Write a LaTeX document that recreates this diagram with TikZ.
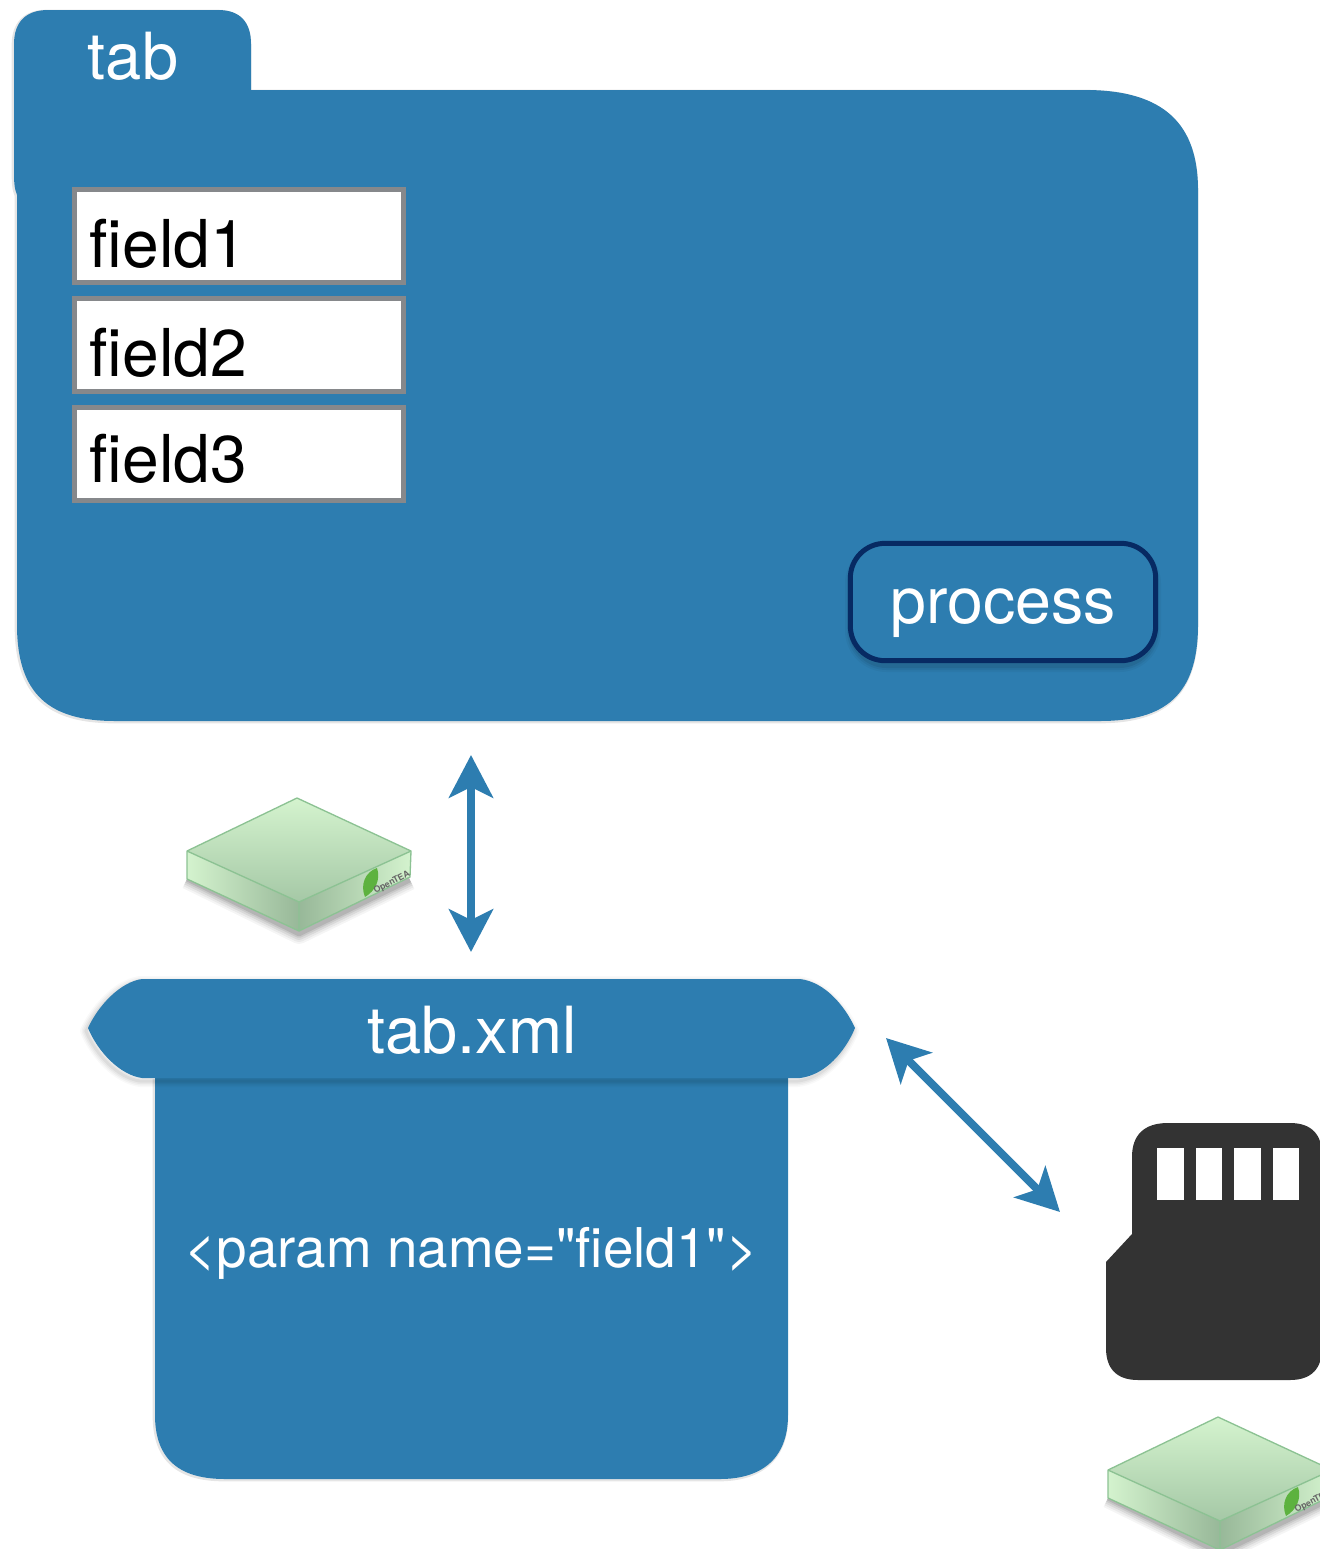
\documentclass[tikz,border=0pt]{standalone}
\usepackage{fontspec}
\newfontfamily\plainface[Ligatures=NoCommon]{TeX Gyre Heros}
\usetikzlibrary{arrows.meta}
\definecolor{paperblue}{HTML}{2D7DB0}
\definecolor{fieldgray}{HTML}{86888B}
\definecolor{navyline}{HTML}{072A63}
\definecolor{carddark}{HTML}{333333}
\definecolor{blockline}{HTML}{8CC293}
\definecolor{blocklight}{HTML}{D4F3CE}
\definecolor{blockdark}{HTML}{A5C8A6}
\definecolor{leafgreen}{HTML}{5DB23F}
\newcommand\pxfont[1]{\plainface\fontsize{\dimexpr#1pt*3/4\relax}{\dimexpr#1pt*9/10\relax}\selectfont}
\newcommand\folderpath{(48,10) -- (218,10) .. controls (240,10) and (251,22) .. (251,44) -- (251,90) -- (1085,90)
  .. controls (1165,90) and (1198,125) .. (1198,190) -- (1198,625) .. controls (1198,695) and (1165,721) .. (1100,721)
  -- (115,721) .. controls (50,721) and (17,695) .. (17,625) -- (17,195)
  .. controls (14,188) and (14,180) .. (14,170) -- (14,44) .. controls (14,22) and (26,10) .. (48,10) -- cycle}
\newcommand\bannerpath{(142,979) -- (800,979) .. controls (825,982) and (845,1006) .. (855,1028)
  .. controls (845,1052) and (825,1075) .. (800,1078) -- (142,1078) .. controls (120,1075) and (98,1052) .. (88,1028)
  .. controls (98,1006) and (120,982) .. (142,979) -- cycle}
\tikzset{
  x=0.75pt,y=-0.75pt,
  paper/.style={fill=paperblue,draw=none},
  fieldbox/.style={draw=fieldgray,fill=white,line width=3.75pt,anchor=north west,
    minimum width=247pt,minimum height=69.5pt,inner sep=0pt,text width=224.5pt,align=left,
    text height=47.5pt,text depth=0pt,font=\pxfont{66},text=black},
  whitelabel/.style={text=white,inner sep=0pt,anchor=base},
  twoway/.style={paperblue,line width=6pt,{Stealth[length=32pt,width=33pt,inset=8pt]}-{Stealth[length=32pt,width=33pt,inset=8pt]},shorten >=0pt,shorten <=0pt},
  datablock/.pic={
    \foreach \w/\o in {30/.04,24/.05,18/.07,12/.08,7/.10}
      \draw[black,opacity=\o,line width=\w*0.5pt,line join=round] (0,81)--(112,136)--(223,82);
    \shade[top color=blocklight,bottom color=blockdark] (0,53)--(110,0)--(224,53)--(112,104)--cycle;
    \shade[left color=blocklight,right color=blockdark!92!black] (0,53)--(112,104)--(112,133)--(0,81)--cycle;
    \shade[left color=blockdark!92!black,right color=blocklight] (112,104)--(224,53)--(223,79)--(112,133)--cycle;
    \draw[blockline,line width=1pt,line join=round] (0,53)--(110,0)--(224,53)--(112,104)--cycle
      (0,53)--(0,81)--(112,133)--(223,79)--(224,53) (112,104)--(112,133);
    \fill[leafgreen] (190,70) .. controls (178,74) and (173,87) .. (178,99) .. controls (188,93) and (194,82) .. (190,70) -- cycle;
    \node[rotate=28,inner sep=0pt,text=black!60,font=\bfseries\pxfont{8.8}] (-logo) at (205,84.5) {OpenTEA};
  }
}
\begin{document}
\begin{tikzpicture}
\useasboundingbox (0,0) rectangle (1320,1549);
\clip (0,0) rectangle (1320,1549);
% folder
\path[draw=black,opacity=.10,line width=2pt,shift={(-1,1)}] \folderpath;
\path[paper] \folderpath;
\node[whitelabel,font=\pxfont{65}] (tabtitle) at (133,79) {tab};
% fields
\node[fieldbox] (field1) at (72,187) {field1};
\node[fieldbox] (field2) at (72,296) {field2};
\node[fieldbox,text height=43pt] (field3) at (72,405) {field3};
% process button
\foreach \w/\o in {14/.04,10/.05,6/.07}
  \draw[black,opacity=\o,line width=\w*0.75pt,rounded corners=26pt] (852,549) rectangle (1154,665);
\node[draw=navyline,fill=paperblue,line width=3.75pt,rounded corners=26pt,minimum width=229pt,minimum height=88pt,
  inner sep=0pt,text=white,text height=32pt,text depth=0pt,font=\pxfont{64.5}] (process) at (1003,602) {process};
% blocks
\pic (blockA) at (187,798) {datablock};
\pic (blockB) at (1108,1417) {datablock};
% arrow 1
\coordinate (upTop) at (471,755);
\coordinate (upBottom) at (471,952);
\draw[twoway] (upTop) -- (upBottom);
% xml document
\path[draw=black,opacity=.10,line width=2pt,shift={(-1,1)}] (155,1078) -- (155,1415) .. controls (155,1460) and (180,1479) .. (225,1479) -- (720,1479) .. controls (760,1479) and (788,1460) .. (788,1415);
\path[paper] (155,1060) -- (788,1060) -- (788,1415) .. controls (788,1460) and (760,1479) .. (720,1479)
  -- (225,1479) .. controls (180,1479) and (155,1460) .. (155,1415) -- cycle;
\foreach \w/\o in {12/.025,9/.03,6/.04,3/.05}
  \path[draw=black,opacity=\o,line width=\w*0.75pt,line join=round,shift={(-2,3)}] \bannerpath;
\path[paper] \bannerpath;
\node[whitelabel,font=\pxfont{65}] (xmltitle) at (472,1053) {tab.xml};
\node[whitelabel,font=\pxfont{54.8}] (xmlparam) at (471.5,1267) {<param name=\char34 field1\char34>};
% arrow 2
\coordinate (diagTop) at (886,1038);
\coordinate (diagBottom) at (1060,1212);
\draw[twoway] (diagTop) -- (diagBottom);
% memory card
\path[fill=carddark] (1168,1123) -- (1290,1123) .. controls (1312,1123) and (1322,1135) .. (1322,1155) -- (1322,1348)
  .. controls (1322,1368) and (1312,1380) .. (1290,1380) -- (1138,1380) .. controls (1116,1380) and (1106,1368) .. (1106,1348)
  -- (1106,1262) -- (1132,1234) -- (1132,1157) .. controls (1132,1135) and (1144,1123) .. (1168,1123) -- cycle;
\foreach \cx in {1157,1195.5,1234,1272.5}
  \fill[white] (\cx,1148) rectangle (\cx+26.5,1200);
\end{tikzpicture}
\end{document}
